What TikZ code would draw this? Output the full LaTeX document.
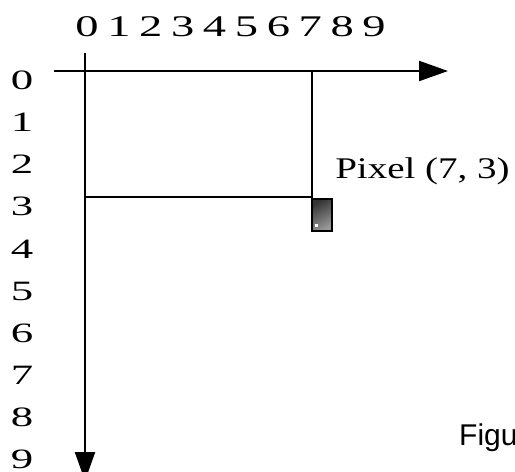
\documentclass[tikz,border=0pt]{standalone}
\usepackage{fontspec}
\setmainfont{Liberation Serif}
\newfontfamily\figfont{Liberation Sans}
\usetikzlibrary{arrows.meta}
\tikzset{
  axis/.style={line width=2.2pt, -{Triangle[length=29pt,width=20pt]}},
  grid line/.style={line width=2pt},
  collbl/.style={font=\fontsize{30}{30}\selectfont, xscale=1.55, inner sep=0pt},
  rowlbl/.style={font=\fontsize{28}{28}\selectfont, xscale=1.6, inner sep=0pt},
  pixel/.style={draw, line width=2.5pt, minimum width=20pt, minimum height=32pt, inner sep=0pt,
    top color=black!80, bottom color=black!40, shading angle=30},
}
\begin{document}
\begin{tikzpicture}[x=1pt,y=-1pt]
\useasboundingbox (0,0) rectangle (515,472);

\foreach \i in {0,...,9} {
        \node[collbl] (c\i) at (87+31.9*\i,27) {\i};
        \node[rowlbl] (r\i) at (22,80+42.2*\i) {\i};
 }

\coordinate (xstart) at (54,71);
\coordinate (xend) at (448,71);
\coordinate (ystart) at (85,53);
\coordinate (yend) at (85,481);
\coordinate (top7) at (312,71);
\coordinate (left3) at (85,197);

\node[pixel] (px) at (322,215) {};
\fill[white] ([shift={(4,-5)}]px.south west) rectangle +(3,-3);

\draw[axis] (xstart) -- (xend);
\draw[axis] (ystart) -- (yend);
\draw[grid line] (top7) -- (top7 |- px.north);
\draw[grid line] (left3) -- (left3 -| px.north west);

\node[font=\fontsize{30}{30}\selectfont, xscale=1.3, inner sep=0pt, anchor=base west] (pxlbl) at (335,178) {Pixel (7, 3)};
\node[font=\figfont\fontsize{30}{30}\selectfont, inner sep=0pt, anchor=base west] (fig) at (459,445) {Figu};

\end{tikzpicture}
\end{document}
